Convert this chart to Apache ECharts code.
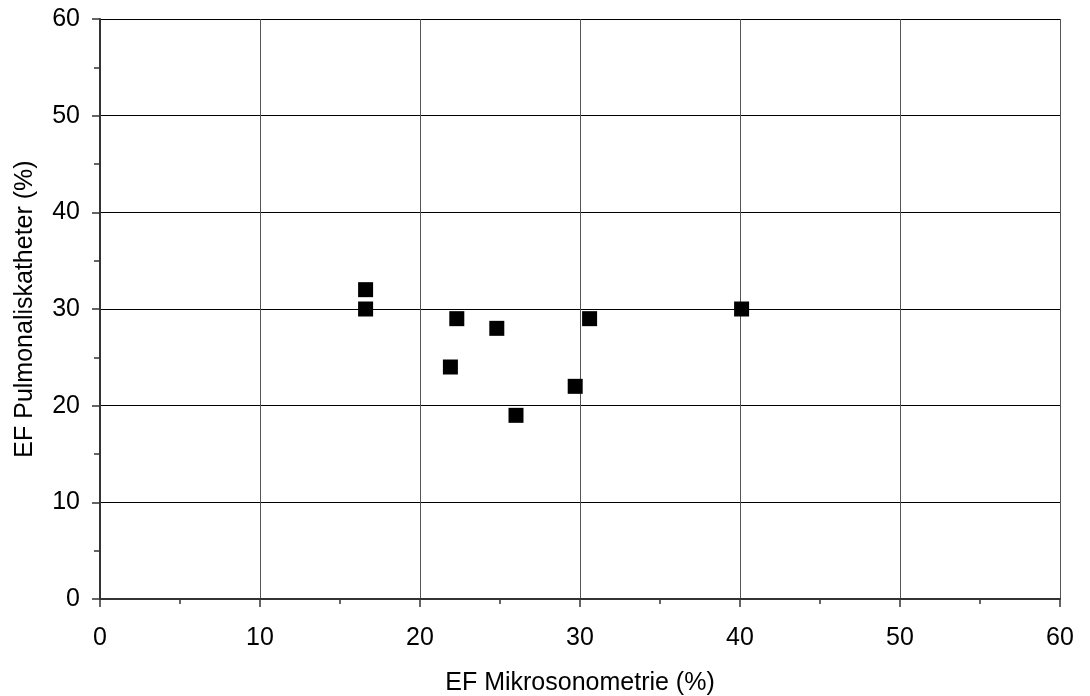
<!DOCTYPE html>
<html>
<head>
<meta charset="utf-8">
<title>EF Mikrosonometrie vs. Pulmonaliskatheter</title>
<script src="https://cdn.jsdelivr.net/npm/echarts@6/dist/echarts.min.js"></script>
<style>
  html, body { margin: 0; padding: 0; background: #ffffff; }
  #chart { width: 1090px; height: 696px; }
</style>
</head>
<body>
<div id="chart"></div>
<script>
// Ejection fraction per patient: microsonometry (x) vs. pulmonary artery catheter (y), in %
const efMikrosonometrie = [16.6, 16.6, 22.3, 24.8, 21.9, 29.7, 26.0, 30.6, 40.1];
const efPulmonaliskatheter = [32, 30, 29, 28, 24, 22, 19, 29, 30];

const xTicks = [0, 10, 20, 30, 40, 50, 60];
const yTicks = [0, 10, 20, 30, 40, 50, 60];

const points = efMikrosonometrie.map((x, i) => [x, efPulmonaliskatheter[i]]);

const font = 'Liberation Sans, Arial, sans-serif';

const chart = echarts.init(document.getElementById('chart'), null, { renderer: 'canvas' });

chart.setOption({
  animation: false,
  backgroundColor: '#ffffff',
  grid: { left: 100, right: 30, top: 19, bottom: 97, containLabel: false, outerBoundsMode: 'none' },
  xAxis: {
    type: 'value',
    min: xTicks[0],
    max: xTicks[xTicks.length - 1],
    interval: xTicks[1] - xTicks[0],
    name: 'EF Mikrosonometrie (%)',
    nameLocation: 'middle',
    nameGap: 72,
    nameTextStyle: { color: '#000', fontFamily: font, fontSize: 25 },
    axisLine: { show: true, onZero: false, lineStyle: { color: '#333', width: 2 } },
    axisTick: { show: true, inside: false, length: 8, lineStyle: { color: '#333', width: 1.5 } },
    minorTick: { show: true, splitNumber: 2, length: 5, lineStyle: { color: '#333', width: 1.5 } },
    axisLabel: { color: '#000', fontFamily: font, fontSize: 25, margin: 27 },
    splitLine: { show: true, lineStyle: { color: '#555', width: 1 } }
  },
  yAxis: {
    type: 'value',
    min: yTicks[0],
    max: yTicks[yTicks.length - 1],
    interval: yTicks[1] - yTicks[0],
    name: 'EF Pulmonaliskatheter (%)',
    nameLocation: 'middle',
    nameGap: 62,
    nameRotate: 90,
    nameTextStyle: { color: '#000', fontFamily: font, fontSize: 25 },
    axisLine: { show: true, onZero: false, lineStyle: { color: '#333', width: 2 } },
    axisTick: { show: true, inside: false, length: 8, lineStyle: { color: '#333', width: 1.5 } },
    minorTick: { show: true, splitNumber: 2, length: 6, lineStyle: { color: '#333', width: 1.5 } },
    axisLabel: { color: '#000', fontFamily: font, fontSize: 25, margin: 20 },
    splitLine: { show: true, lineStyle: { color: '#000', width: 1 } }
  },
  series: [{
    type: 'scatter',
    data: points,
    symbol: 'rect',
    symbolSize: 15,
    itemStyle: { color: '#000000', opacity: 1 },
    emphasis: { disabled: true }
  }]
});
</script>
</body>
</html>
